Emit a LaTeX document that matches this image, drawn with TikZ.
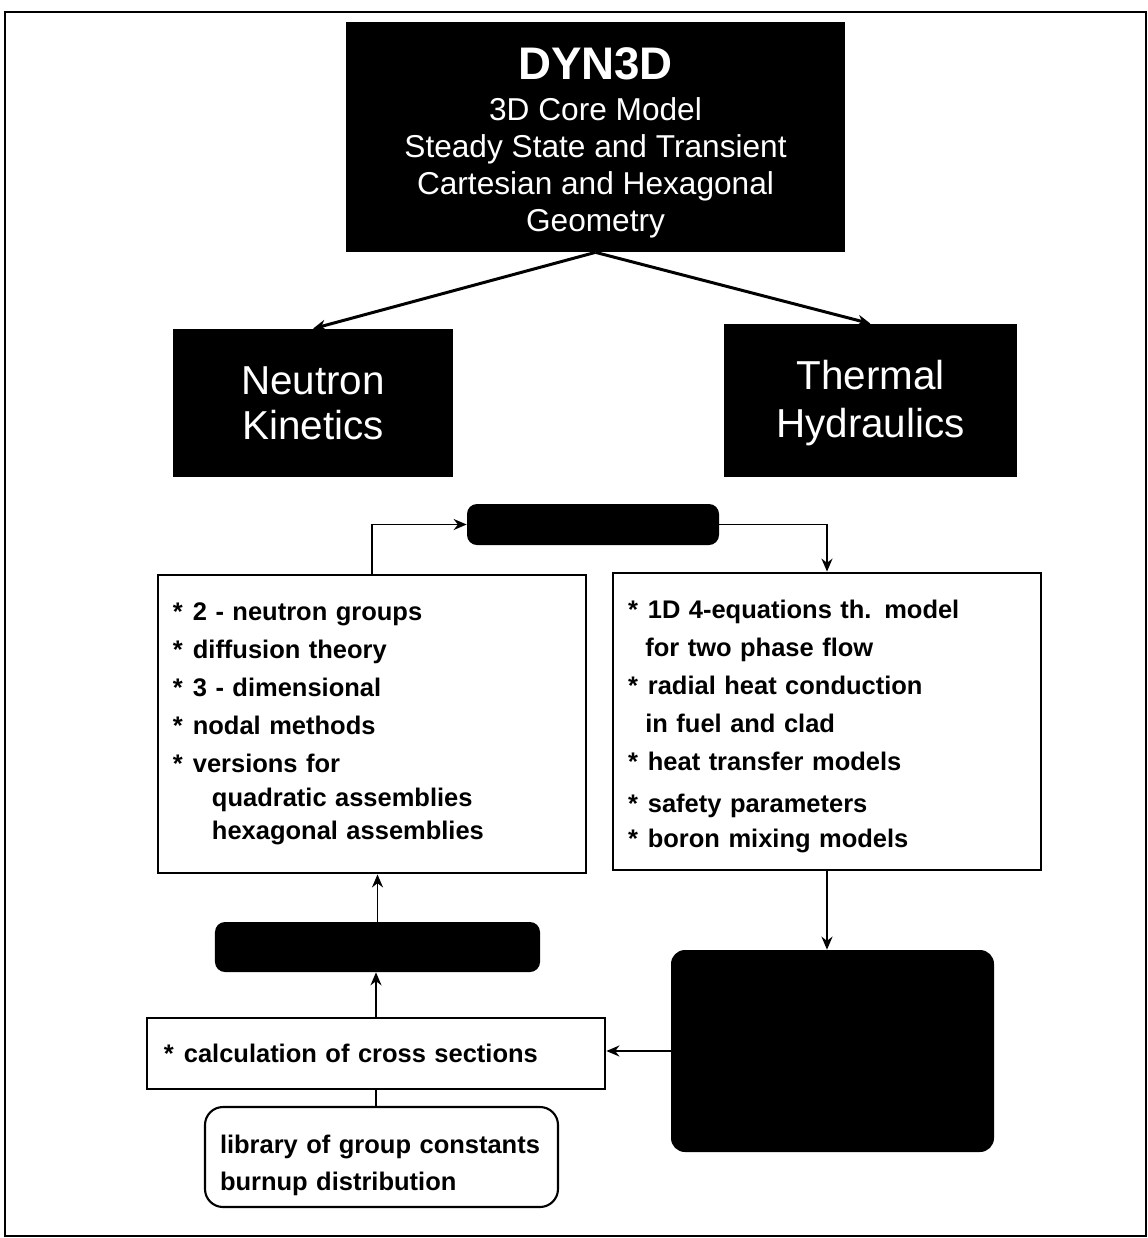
\documentclass[tikz,border=0pt]{standalone}
\usepackage{fontspec}
\setmainfont{Liberation Sans}
\usetikzlibrary{arrows.meta}
\newcommand{\bul}{\makebox[0.78em][l]{*}}

\begin{document}
\begin{tikzpicture}[x=0.2mm,y=-0.2mm,
  blk/.style={fill=black,text=white,align=center,inner sep=0pt},
  big/.style={font=\fontsize{23}{25.6}\selectfont},
  pill/.style={fill=black,rounded corners=2mm},
  lst/.style={draw,line width=1.6pt,align=left,inner xsep=3mm,inner ysep=0pt,font=\bfseries\fontsize{14.5}{21.6}\selectfont},
  lnk/.style={-{Stealth[length=2.6mm,width=2.2mm]},line width=1.1pt}]
  \useasboundingbox (0,0) rectangle (1148,1238);
  \draw[line width=1.1pt] (5,12) rectangle (1146,1236);
  % model blocks
  \node[blk,font=\fontsize{18}{21}\selectfont,minimum width=99.8mm,minimum height=46mm] (dyn) at (595.5,137)
    {\rule{0pt}{8.6mm}{\bfseries\fontsize{26}{30}\selectfont DYN3D}\\[2.3pt]3D Core Model\\Steady State and Transient\\Cartesian and Hexagonal\\Geometry};
  \node[blk,big,minimum width=56mm,minimum height=29.6mm] (nk) at (313,403) {Neutron\\Kinetics};
  \node[blk,big,font=\fontsize{23}{27.3}\selectfont,minimum width=58.6mm,minimum height=30.6mm] (th) at (870.5,400.5) {\rule{0pt}{7mm}Thermal\\Hydraulics};
  \node[pill,minimum width=50.4mm,minimum height=8.2mm] (cpl) at (593,524.5) {};
  \node[lst,text width=79.6mm,minimum height=59.6mm] (nkm) at (372,724)
    {\bul 2 - neutron groups\\
     \bul diffusion theory\\
     \bul 3 - dimensional\\
     \bul nodal methods\\
     \bul versions for\\[-2.2pt]
     \hspace*{1.53em}quadratic assemblies\\[-2.8pt]
     \hspace*{1.53em}hexagonal assemblies};
  \node[lst,text width=79.6mm,minimum height=59.4mm] (thm) at (827,721.5)
    {\rule{0pt}{5.6mm}\bul 1D 4-equations th. model\\
     \hspace*{0.68em}for two phase flow\\
     \bul radial heat conduction\\
     \hspace*{0.68em}in fuel and clad\\
     \bul heat transfer models\\[2.3pt]
     \bul safety parameters\\[-1.7pt]
     \bul boron mixing models};
  \node[pill,minimum width=65mm,minimum height=10mm] (xs) at (377.5,947) {};
  \node[fill=black,rounded corners=2.8mm,minimum width=64.6mm,minimum height=40.4mm] (tdb) at (832.5,1051) {};
  \node[lst,inner xsep=3.4mm,text width=84.8mm,minimum height=14.2mm] (calc) at (376,1053.5) {\bul calculation of cross sections};
  \node[lst,line width=1.2pt,rounded corners=3.6mm,text width=64.6mm,minimum height=20mm] (lib) at (381.5,1157)
    {\rule{0pt}{7.2mm}library of group constants\\[-0.6pt]burnup distribution};
  % connectors
  \draw[lnk,line width=1.7pt] (dyn.south) -- (nk.north);
  \draw[lnk,line width=1.7pt] (dyn.south) -- (th.north);
  \draw[lnk] (nkm.north) |- (cpl.west);
  \draw[lnk] (cpl.east) -| (thm.north);
  \draw[lnk] (xs.north) -- (xs.north |- nkm.south);
  \draw[lnk] (calc.north) -- (calc.north |- xs.south);
  \draw[lnk] (thm.south) -- (thm.south |- tdb.north);
  \draw[lnk] (tdb.west) -- (calc.east |- tdb.west);
  \draw[line width=1.1pt] (calc.south) -- (calc.south |- lib.north);
\end{tikzpicture}
\end{document}
